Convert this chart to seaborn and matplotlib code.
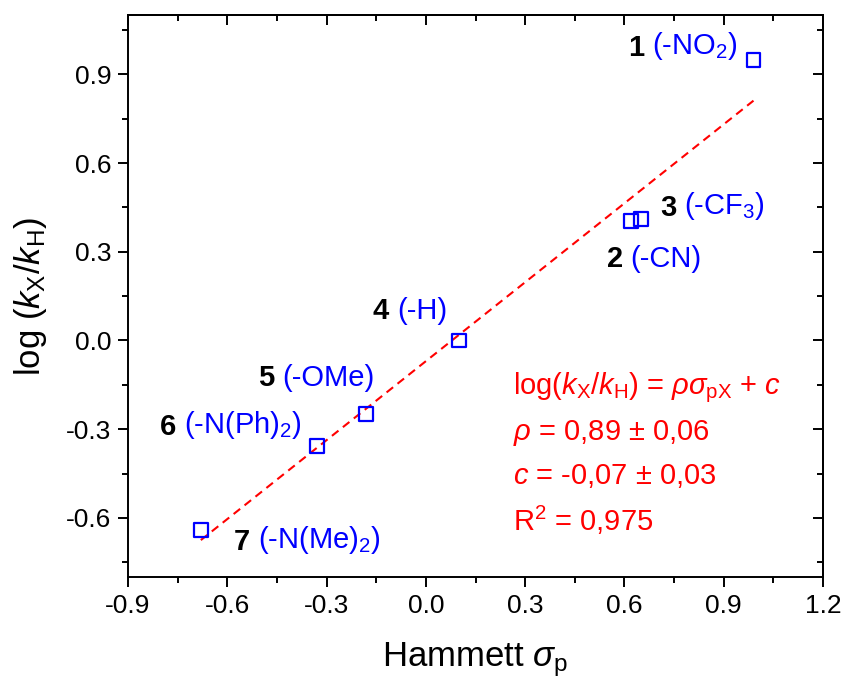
import numpy as np
import pandas as pd
import matplotlib
matplotlib.use("Agg")
import matplotlib.pyplot as plt
from matplotlib.ticker import MultipleLocator, FormatStrFormatter
import seaborn as sns

# Hammett substituent constants and relative rate constants
sigma_p = [0.99, 0.62, 0.65, 0.10, -0.18, -0.33, -0.68]
log_k_ratio = [0.95, 0.405, 0.412, 0.0, -0.248, -0.357, -0.642]
compound_ids = ["1", "2", "3", "4", "5", "6", "7"]
substituents = [r"(-NO$_2$)", "(-CN)", r"(-CF$_3$)", "(-H)", "(-OMe)",
                r"(-N(Ph)$_2$)", r"(-N(Me)$_2$)"]
# label anchor (left edge, vertical centre) in data units
label_x = [0.611, 0.547, 0.707, -0.16, -0.507, -0.803, -0.58]
label_y = [0.99, 0.276, 0.449, 0.099, -0.128, -0.291, -0.681]

# linear fit parameters
rho = 0.89
c0 = -0.07
fit_lines = [r"log($k_{\rm X}$/$k_{\rm H}$) = $\rho\sigma_{\rm pX}$ + $c$",
             r"$\rho$ = 0,89 $\pm$ 0,06",
             r"$c$ = -0,07 $\pm$ 0,03",
             r"R$^2$ = 0,975"]
fit_text_x = 0.263
fit_text_y = [-0.159, -0.314, -0.458, -0.607]

sns.set_style("ticks")
plt.rcParams["font.family"] = ["Liberation Sans", "DejaVu Sans"]
plt.rcParams["mathtext.fontset"] = "custom"
plt.rcParams["mathtext.rm"] = "Liberation Sans"
plt.rcParams["mathtext.it"] = "Liberation Sans:italic"
plt.rcParams["mathtext.bf"] = "Liberation Sans:bold"
plt.rcParams["text.color"] = "black"
plt.rcParams["axes.labelcolor"] = "black"
plt.rcParams["xtick.color"] = "black"
plt.rcParams["ytick.color"] = "black"
plt.rcParams["axes.edgecolor"] = "black"

fig = plt.figure(figsize=(8.48, 6.93), dpi=100)
ax = fig.add_axes([0.151, 0.1674, 0.8195, 0.8106])

df = pd.DataFrame({"sigma": sigma_p, "logk": log_k_ratio})
xfit = np.array([min(sigma_p), max(sigma_p)])
fit_df = pd.DataFrame({"sigma": xfit, "logk": rho * xfit + c0})

sns.lineplot(data=fit_df, x="sigma", y="logk", ax=ax, color="red",
             linewidth=1.5, dashes=(4, 2.7), zorder=2)
sns.scatterplot(data=df, x="sigma", y="logk", ax=ax, marker="s", s=100,
                facecolor="none", edgecolor="blue", linewidth=1.6, zorder=3)

for cid, sub, lx, ly in zip(compound_ids, substituents, label_x, label_y):
    t = ax.text(lx, ly, cid, fontsize=21, fontweight="bold", color="black",
                va="center", ha="left")
    ax.annotate(sub, xy=(1, 0), xycoords=t, xytext=(5.5, 0),
                textcoords="offset points", fontsize=21, color="blue",
                va="bottom", ha="left")

for line, fy in zip(fit_lines, fit_text_y):
    ax.text(fit_text_x, fy, line, fontsize=21, color="red",
            va="center", ha="left")

ax.set_xlim(-0.9, 1.2)
ax.set_ylim(-0.8, 1.1)
ax.xaxis.set_major_locator(MultipleLocator(0.3))
ax.xaxis.set_minor_locator(MultipleLocator(0.15))
ax.set_yticks(np.arange(-0.6, 1.0, 0.3))
ax.yaxis.set_minor_locator(MultipleLocator(0.15))
ax.xaxis.set_major_formatter(FormatStrFormatter("%.1f"))
ax.yaxis.set_major_formatter(FormatStrFormatter("%.1f"))

for side in ["left", "bottom", "top", "right"]:
    ax.spines[side].set_visible(True)
    ax.spines[side].set_linewidth(1.4)
    ax.spines[side].set_color("black")

ax.tick_params(which="major", direction="out", length=7, width=1.4,
               labelsize=19, colors="black", pad=5)
ax.tick_params(which="minor", direction="out", length=4, width=1.4,
               colors="black")

# inward ticks on the top and right frame edges
top = ax.secondary_xaxis("top")
top.xaxis.set_major_locator(MultipleLocator(0.3))
top.xaxis.set_minor_locator(MultipleLocator(0.15))
top.tick_params(which="major", direction="in", length=7, width=1.4,
                labeltop=False, colors="black")
top.tick_params(which="minor", direction="in", length=4, width=1.4,
                colors="black")
top.spines["top"].set_linewidth(1.4)
top.spines["top"].set_color("black")
right = ax.secondary_yaxis("right")
right.set_yticks(np.arange(-0.6, 1.0, 0.3))
right.yaxis.set_minor_locator(MultipleLocator(0.15))
right.tick_params(which="major", direction="in", length=7, width=1.4,
                  labelright=False, colors="black")
right.tick_params(which="minor", direction="in", length=4, width=1.4,
                  colors="black")
right.spines["right"].set_linewidth(1.4)
right.spines["right"].set_color("black")

ax.set_xlabel(r"Hammett $\sigma_{\rm p}$", fontsize=25, labelpad=16,
              color="black")
ax.set_ylabel(r"log ($k_{\rm X}$/$k_{\rm H}$)", fontsize=25, labelpad=12,
              color="black")

fig.savefig("out.png", dpi=100)
